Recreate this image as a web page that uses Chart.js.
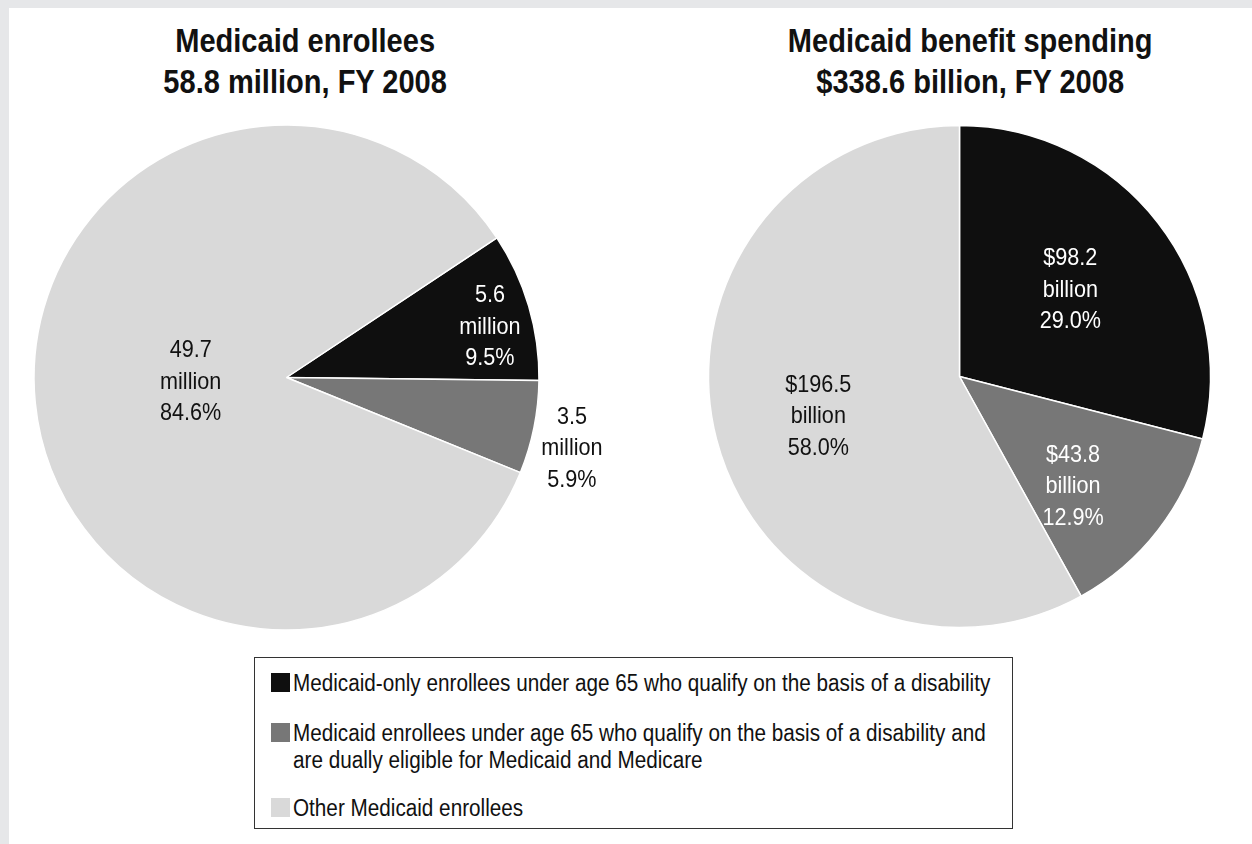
<!DOCTYPE html>
<html>
<head>
<meta charset="utf-8">
<script src="https://cdn.jsdelivr.net/npm/chart.js@4"></script>
<style>
  body { margin: 0; background: #fff; width: 1252px; height: 844px; position: relative; overflow: hidden;
         font-family: 'Liberation Sans', Arial, sans-serif; }
  .frame-top { position: absolute; left: 0; top: 0; width: 1252px; height: 8px; background: #e6e7e9; }
  .frame-left { position: absolute; left: 0; top: 0; width: 9px; height: 844px; background: #e6e7e9; }
  .title { position: absolute; top: 20px; width: 500px; text-align: center; }
  .title span { display: inline-block; font-size: 33px; font-weight: bold; line-height: 41px; color: #111;
                white-space: nowrap; transform: scaleX(0.88); transform-origin: center; }
  .wrap { position: absolute; top: 110px; width: 600px; height: 535px; }
  #legend { position: absolute; left: 254px; top: 657px; width: 757px; height: 170px; border: 1px solid #333; }
  .item { position: absolute; left: 16px; }
  .sw { position: absolute; left: 0; top: 3px; width: 19px; height: 19px; }
  .txt { position: absolute; left: 22px; top: 0; font-size: 23px; line-height: 27px; color: #111;
         width: 795px; transform: scaleX(0.9); transform-origin: left top; }
</style>
</head>
<body>
<div class="frame-top"></div>
<div class="frame-left"></div>

<div class="title" style="left:55px;"><span id="title1"></span></div>
<div class="title" style="left:720px;"><span id="title2"></span></div>

<div class="wrap" style="left:20px;"><canvas id="enrolleesChart"></canvas></div>
<div class="wrap" style="left:650px;"><canvas id="spendingChart"></canvas></div>

<div id="legend"></div>

<script>
// catégories (légende commune)
const categories = [
  'Medicaid-only enrollees under age 65 who qualify on the basis of a disability',
  'Medicaid enrollees under age 65 who qualify on the basis of a disability and are dually eligible for Medicaid and Medicare',
  'Other Medicaid enrollees'
];
const colors = ['#0f0f0f', '#777777', '#d9d9d9'];

// enrollees (millions)
const enrolleesTitle = ['Medicaid enrollees', '58.8 million, FY 2008'];
const enrolleesValues = [5.6, 3.5, 49.7];
const enrolleesPct = ['9.5%', '5.9%', '84.6%'];

// spending (billions)
const spendingTitle = ['Medicaid benefit spending', '$338.6 billion, FY 2008'];
const spendingValues = [98.2, 43.8, 196.5];
const spendingPct = ['29.0%', '12.9%', '58.0%'];

// titres
document.getElementById('title1').innerHTML = enrolleesTitle.join('<br>');
document.getElementById('title2').innerHTML = spendingTitle.join('<br>');

// légende
const legendTops = [12, 62, 137];
const legend = document.getElementById('legend');
categories.forEach((cat, i) => {
  const item = document.createElement('div');
  item.className = 'item';
  item.style.top = legendTops[i] + 'px';
  const sw = document.createElement('div');
  sw.className = 'sw';
  sw.style.background = colors[i];
  const txt = document.createElement('div');
  txt.className = 'txt';
  txt.textContent = cat;
  item.appendChild(sw);
  item.appendChild(txt);
  legend.appendChild(item);
});

// étiquettes dans les parts : lignes valeur / unité / pourcentage
const sliceLabels = {
  id: 'sliceLabels',
  afterDatasetsDraw(chart, args, opts) {
    const ctx = chart.ctx;
    const arcs = chart.getDatasetMeta(0).data;
    arcs.forEach((arc, i) => {
      const p = arc.getProps(['x', 'y', 'startAngle', 'endAngle', 'outerRadius'], true);
      const mid = (p.startAngle + p.endAngle) / 2 + opts.shift[i] * Math.PI / 180;
      const r = p.outerRadius * opts.dist[i];
      const x = p.x + Math.cos(mid) * r;
      const y = p.y + Math.sin(mid) * r;
      const lines = [opts.prefix + opts.values[i], opts.unit, opts.pct[i]];
      ctx.save();
      ctx.translate(x, y);
      ctx.scale(0.9, 1);
      ctx.font = '24px "Liberation Sans", Arial, sans-serif';
      ctx.textAlign = 'center';
      ctx.textBaseline = 'middle';
      ctx.fillStyle = opts.textColors[i];
      lines.forEach((l, k) => ctx.fillText(l, 0, (k - 1) * 31.5));
      ctx.restore();
    });
  }
};

function makePie(id, values, radius, rotation, padding, labelOpts) {
  return new Chart(document.getElementById(id).getContext('2d'), {
    type: 'pie',
    data: {
      labels: categories,
      datasets: [{
        data: values,
        backgroundColor: colors,
        borderColor: '#ffffff',
        borderWidth: 1.5,
        radius: radius
      }]
    },
    options: {
      responsive: true,
      maintainAspectRatio: false,
      animation: false,
      events: [],
      rotation: rotation,
      layout: { padding: padding },
      plugins: {
        legend: { display: false },
        tooltip: { enabled: false },
        sliceLabels: labelOpts
      }
    },
    plugins: [sliceLabels]
  });
}

const enrolleesTotal = enrolleesValues.reduce((a, b) => a + b, 0);
// la part noire se termine à l'horizontale (3 h)
const enrolleesRotation = 90 - 360 * enrolleesValues[0] / enrolleesTotal + 0.7;

makePie('enrolleesChart', enrolleesValues, 252.5, enrolleesRotation,
  { left: 0, right: 67, top: 0, bottom: 0 },
  {
    values: enrolleesValues.map(v => v.toFixed(1)),
    pct: enrolleesPct,
    prefix: '',
    unit: 'million',
    dist: [0.83, 1.165, 0.38],
    shift: [2.5, 2.6, 3],
    textColors: ['#ffffff', '#111111', '#111111']
  });

makePie('spendingChart', spendingValues, 251, 0,
  { left: 19, right: 0, top: 0, bottom: 2 },
  {
    values: spendingValues.map(v => v.toFixed(1)),
    pct: spendingPct,
    prefix: '$',
    unit: 'billion',
    dist: [0.56, 0.63, 0.585],
    shift: [-0.2, 6.4, -1.4],
    textColors: ['#ffffff', '#ffffff', '#111111']
  });
</script>
</body>
</html>
